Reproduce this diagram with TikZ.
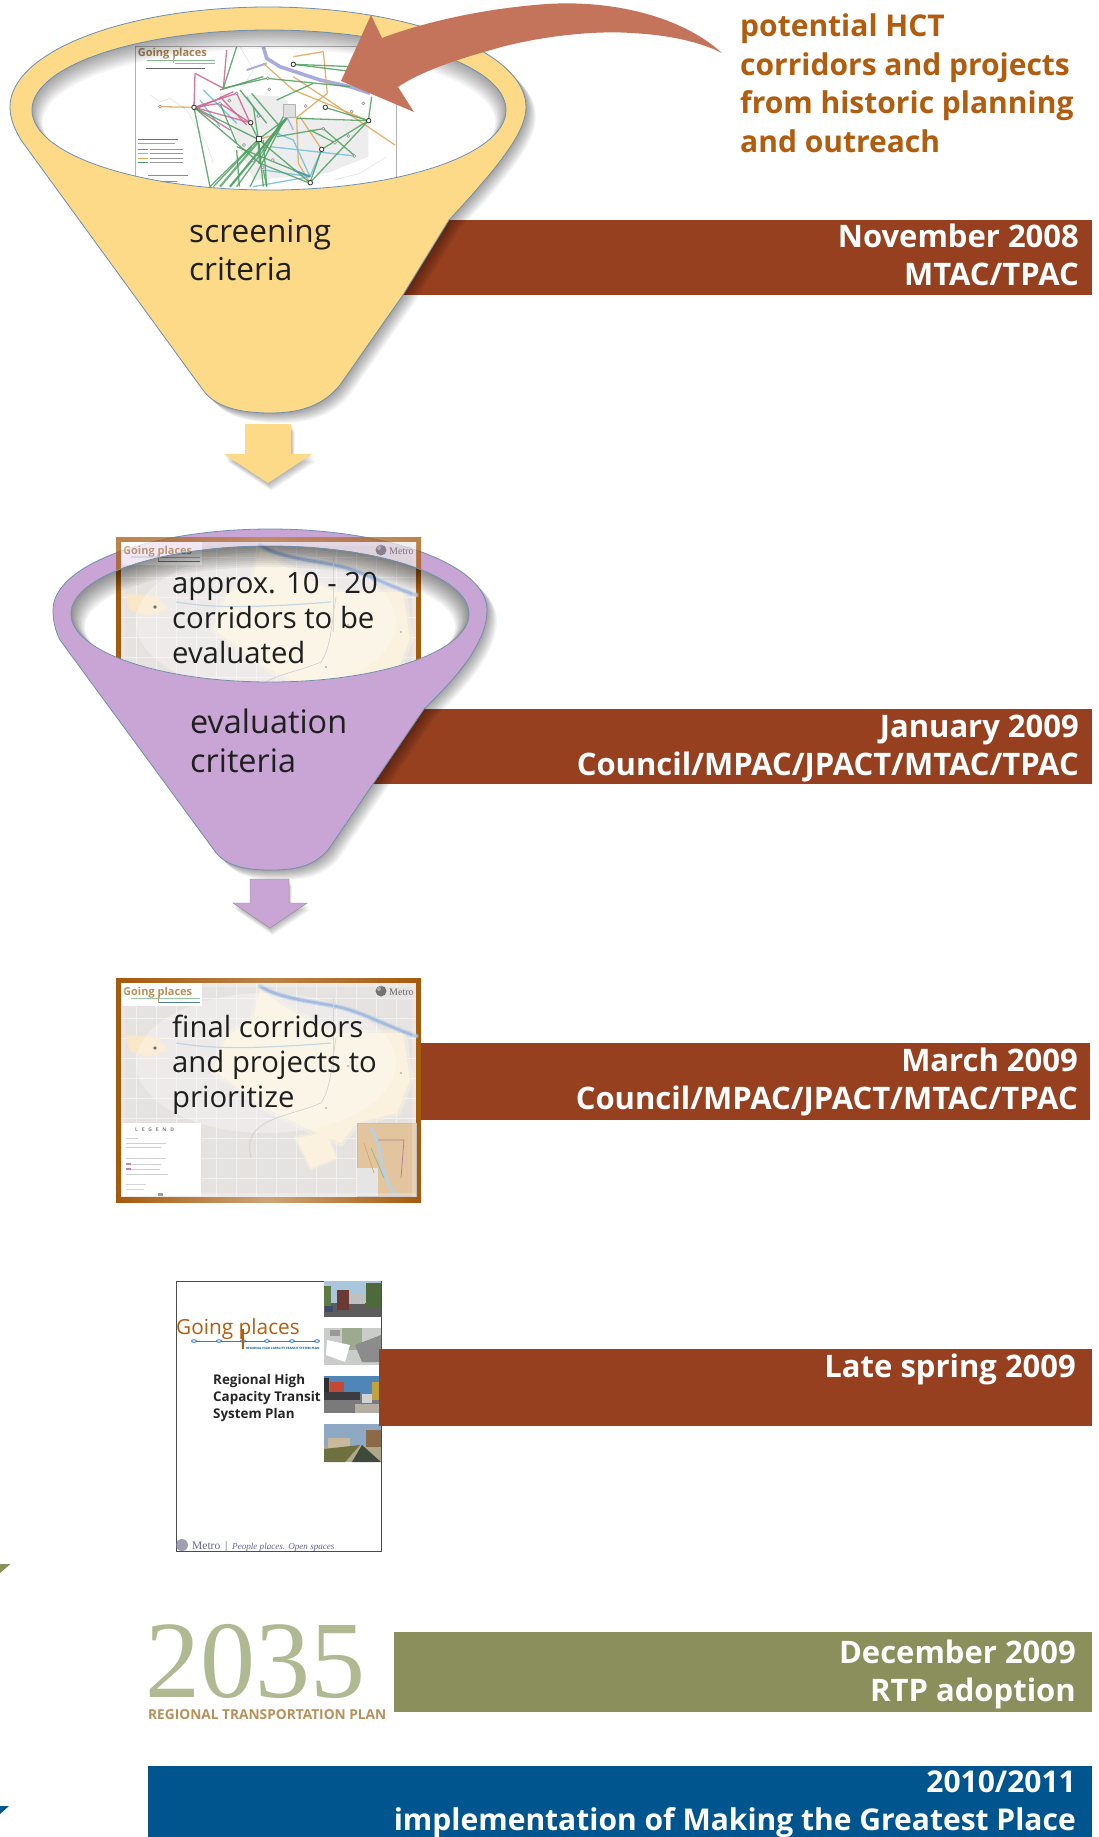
\documentclass[tikz,border=0pt]{standalone}
\usepackage{fontspec}
\setmainfont{Open Sans}
\newfontfamily\serifface{Liberation Serif}
\definecolor{barbrown}{HTML}{964020}
\definecolor{yellowf}{HTML}{FDDA88}
\definecolor{purplef}{HTML}{C8A5D4}
\definecolor{edgeblue}{HTML}{6F8FB0}
\definecolor{terracotta}{HTML}{C4745A}
\definecolor{orangetxt}{HTML}{B25C0E}
\definecolor{olivebar}{HTML}{8A8F5C}
\definecolor{olivepale}{HTML}{B0BA92}
\definecolor{bluebar}{HTML}{00558F}
\definecolor{framebrown}{HTML}{A55A0C}
\definecolor{mapbase}{HTML}{E6E2E0}
\definecolor{mapcream}{HTML}{FAF2DE}
\definecolor{mapriver}{HTML}{B9D0DF}
\definecolor{tantxt}{HTML}{B8905A}
\definecolor{netgreen}{HTML}{4FA060}
\definecolor{netpink}{HTML}{D0608E}
\definecolor{netorange}{HTML}{DDA858}
\definecolor{netblue}{HTML}{70BFD6}
\definecolor{netviolet}{HTML}{A9ABDC}
\tikzset{
  bartext/.style={font=\fontsize{31}{38}\selectfont\bfseries,text=white,align=right,anchor=base east,inner sep=0pt},
  bodytext/.style={font=\fontsize{31.6}{38}\selectfont,text=black!88,align=left,anchor=base west,inner sep=0pt},
  maptext/.style={font=\fontsize{29.3}{35}\selectfont,text=black!88,align=left,anchor=base west,inner sep=0pt},
  net/.style={line width=1.3pt,opacity=.85},
  hub/.style={circle,draw=black!75,fill=white,line width=.9pt,minimum size=4.5pt,inner sep=0pt},
  tiny/.style={circle,draw=black!45,fill=white,line width=.5pt,minimum size=3pt,inner sep=0pt},
  mapsmall/.style={inner sep=0pt,anchor=base west},
  photofill/.code={\definecolor{phototmp}{HTML}{#1}\tikzset{fill=phototmp}},
}
% outlines
\def\funnelApath{(10,107) arc[start angle=180,end angle=0,x radius=258pt,y radius=100pt]
  .. controls (526,130) and (505,160) .. (449,220) -- (403,295) -- (340,385)
  .. controls (322,407) and (298,413) .. (270,413) .. controls (240,413) and (215,407) .. (203,390)
  -- (21,140) .. controls (14,128) and (10,118) .. (10,107) -- cycle}
\def\funnelBpath{(53,610) arc[start angle=180,end angle=0,x radius=217pt,y radius=81pt]
  .. controls (487,635) and (470,665) .. (424,709) -- (373,784) -- (328,850)
  .. controls (312,868) and (292,870) .. (270,870) .. controls (245,870) and (225,866) .. (214,850)
  -- (60,640) .. controls (55,630) and (53,620) .. (53,610) -- cycle}
\def\arrowApath{(245,424) -- (291,424) -- (291,454) -- (312,454) -- (268,483) -- (224,454) -- (245,454) -- cycle}
\def\arrowBpath{(250,879) -- (289,879) -- (289,903) -- (307,903) -- (270,928) -- (233,903) -- (250,903) -- cycle}
% soft map picture, origin = frame corner
\def\urbanpath{(144,12) -- (167,28) -- (217,55) -- (287,55) -- (294,102) -- (281,135) -- (241,145)
     -- (225,165) -- (194,152) -- (150,130) -- (97,92) -- (111,58) -- (137,42) -- cycle}
\newcommand{\softmap}{
  \fill[framebrown] (0,0) rectangle (305,224);
  \shade[left color=framebrown,right color=framebrown,middle color=framebrown!55!white] (0,218) rectangle (305,224);
  \shade[left color=framebrown,right color=framebrown,middle color=framebrown!75!white] (0,0) rectangle (305,5);
  \fill[mapbase] (5,5) rectangle (300,219);
  \foreach \gx in {20,40,...,280} {\draw[black!6,line width=.3pt] (\gx,5) -- (\gx,219);}
  \foreach \gy in {20,40,...,200} {\draw[black!6,line width=.3pt] (5,\gy) -- (300,\gy);}
  \draw[mapcream,line width=7pt,line join=round,opacity=.45] \urbanpath;
  \fill[mapcream] \urbanpath;
  \draw[mapcream!90!orange,line width=3pt,line join=round,opacity=.6] (11,58) -- (40,60) -- (51,72) -- (31,78) -- (14,72) -- cycle;
  \fill[mapcream!90!orange] (11,58) -- (40,60) -- (51,72) -- (31,78) -- (14,72) -- cycle;
  \draw[mapcream,line width=4pt,line join=round,opacity=.5] (180,160) -- (210,155) -- (220,180) -- (195,190) -- cycle;
  \fill[mapcream] (180,160) -- (210,155) -- (220,180) -- (195,190) -- cycle;
  \fill[white,opacity=.3] (150,85) ellipse [x radius=130pt,y radius=70pt];
  \draw[mapriver,line width=5pt,line cap=round,line join=round,opacity=.6] (144,8) .. controls (165,22) and (205,24) .. (227,30) .. controls (250,36) and (275,50) .. (300,58);
  \draw[mapriver!90!blue,line width=2.6pt,line cap=round,line join=round] (144,8) .. controls (165,22) and (205,24) .. (227,30) .. controls (250,36) and (275,50) .. (300,58);
  \draw[mapriver,line width=1.2pt,opacity=.8] (60,65) .. controls (100,72) and (150,70) .. (215,65);
  \draw[black!18,line width=.7pt] (220,60) .. controls (215,90) and (215,110) .. (205,125) .. controls (170,140) and (125,140) .. (135,180);
  \draw[red!25!black!18,line width=.5pt] (217,20) -- (217,95);
  \fill[black!55] (39,70) circle (1.8pt);
  \fill[black!30] (232,88) circle (1.2pt);
  \fill[black!30] (285,95) circle (1.2pt);
  \fill[black!30] (210,130) circle (1.2pt);
  \fill[white] (6,5) rectangle (86,28);
  \node[mapsmall,text=tantxt,font=\fontsize{11}{12}\selectfont\bfseries] (mapgoing) at (7,17) {Going places};
  \draw[netgreen!60,line width=.7pt] (15,20) -- (84,20);
  \draw[netblue!70!black,line width=.6pt] (42,24) -- (84,24);
  \draw[orangetxt!60,line width=.8pt] (42,17) -- (42,25);
  \fill[black!55] (265,13) circle (5.5pt);
  \fill[white,opacity=.4] (263,11) circle (2pt);
  \node[mapsmall,text=black!60,font=\serifface\fontsize{10}{11}\selectfont] (mapmetro) at (273,17) {Metro};
  % legend
  \fill[white] (6,145) rectangle (85,218);
  \node[mapsmall,text=black!50,font=\fontsize{5}{6}\selectfont\bfseries] (maplegend) at (19,153) {L\,\,\, E\,\,\, G\,\,\, E\,\,\, N\,\,\, D};
  \foreach \ly/\lx in {160/12,165/40,169/35,180/40,186/35,191/34,196/42,206/20,211/18} {\draw[black!18,line width=1pt] (10,\ly) -- (10+\lx,\ly);}
  \fill[netpink!80] (10,185) rectangle (15,187);
  \fill[violet!50] (10,190) rectangle (15,192);
  \fill[black!50] (42,215) rectangle (47,218);
  % inset
  \fill[mapcream!75!orange!80!gray] (241,145) rectangle (300,218);
  \draw[black!25,line width=.5pt] (241,145) rectangle (300,218);
  \fill[black!10] (241,190) rectangle (262,218);
  \draw[mapriver,line width=3pt] (255,150) .. controls (270,175) and (260,190) .. (280,218);
  \draw[netpink!70!black!70,line width=.7pt] (262,162) -- (288,162) -- (285,200);
  \draw[netgreen!70,line width=.7pt] (255,170) -- (268,200);
  \draw[netorange,line width=.7pt] (248,165) -- (258,195);
  \fill[white,opacity=.25] (5,5) rectangle (300,9);
  \fill[white,opacity=.25] (5,215) rectangle (300,219);
  \fill[white,opacity=.2] (296,5) rectangle (300,219);
  \fill[white,opacity=.2] (5,5) rectangle (9,219);
}
% network map, in coordinates of a 3x view
\newcommand{\netmap}{
  \fill[white] (47,48) rectangle (830,500);
  \fill[black!7] (300,190) -- (490,200) -- (530,260) -- (745,280) -- (745,380) -- (620,430) -- (400,450) -- (350,330) -- cycle;
  \draw[black!30,line width=.5pt] (47,500) -- (47,48) -- (830,48) -- (830,500);
  \draw[black!12,line width=.5pt] (90,195) -- (120,215) -- (150,205) -- (200,240) -- (260,340) -- (280,400);
  \draw[black!12,line width=.5pt] (360,50) -- (400,120) -- (370,170);
  \draw[black!12,line width=.5pt] (640,450) -- (720,430) -- (800,380);
  \draw[netviolet,line width=3.6pt,line join=round] (430,50) -- (440,85) -- (480,110) -- (600,150) -- (690,170) -- (750,190);
  \draw[netviolet,line width=2pt,line join=round] (380,120) -- (440,100);
  \draw[netviolet,line width=1.2pt] (500,260) -- (520,300);
  % orange
  \foreach \a/\b in {{(520,80)}/{(610,65)},{(610,65)}/{(622,190)},{(622,190)}/{(530,262)},{(530,262)}/{(535,400)},{(535,400)}/{(570,458)},{(520,140)}/{(825,345)},{(430,100)}/{(520,180)},{(120,230)}/{(222,232)},{(415,328)}/{(480,310)},{(520,180)}/{(745,272)},{(540,260)}/{(605,358)}}
    {\draw[netorange,net] \a -- \b;}
  % light blue
  \foreach \a/\b in {{(470,310)}/{(520,330)},{(520,330)}/{(570,440)},{(430,420)}/{(570,440)},{(250,180)}/{(350,280)},{(605,358)}/{(570,440)},{(380,200)}/{(420,260)},{(450,350)}/{(705,378)},{(400,470)}/{(570,440)},{(240,210)}/{(300,290)}}
    {\draw[netblue,net] \a -- \b;}
  % pink
  \foreach \a/\b in {{(225,130)}/{(222,232)},{(225,130)}/{(310,175)},{(222,232)}/{(350,190)},{(222,232)}/{(300,220)},{(222,232)}/{(390,278)},{(300,220)}/{(390,278)},{(320,60)}/{(310,175)},{(222,232)}/{(330,300)},{(350,190)}/{(390,278)},{(222,240)}/{(340,185)},{(300,200)}/{(380,285)}}
    {\draw[netpink,net] \a -- \b;}
  % green
  \foreach \a/\b in {{(222,232)}/{(415,328)},{(222,232)}/{(270,470)},{(415,328)}/{(570,458)},{(270,470)}/{(415,328)},{(330,470)}/{(500,262)},{(350,470)}/{(500,265)},{(415,328)}/{(500,265)},{(415,328)}/{(430,470)},{(390,278)}/{(415,328)},{(350,50)}/{(310,175)},{(310,175)}/{(440,145)},{(440,145)}/{(690,170)},{(520,103)}/{(740,130)},{(520,103)}/{(700,110)},{(615,232)}/{(745,272)},{(745,272)}/{(605,358)},{(530,265)}/{(745,272)},{(745,272)}/{(570,458)},{(610,296)}/{(705,378)},{(570,300)}/{(645,338)},{(605,358)}/{(570,458)},{(350,350)}/{(570,440)},{(222,232)}/{(420,400)},{(430,330)}/{(440,470)},{(470,210)}/{(580,160)},{(755,200)}/{(745,272)},{(400,230)}/{(415,328)},{(300,220)}/{(350,340)},{(390,470)}/{(490,275)},{(280,470)}/{(395,350)},{(350,360)}/{(358,470)},{(430,140)}/{(300,180)},{(360,180)}/{(440,280)},{(490,260)}/{(415,400)},{(420,400)}/{(570,460)},{(395,190)}/{(480,290)},{(430,420)}/{(440,470)},{(470,320)}/{(610,296)}}
    {\draw[netgreen,net] \a -- \b;}
  \draw[netgreen,line width=2.2pt,opacity=.8] (330,470) -- (500,265);
  \draw[netgreen,line width=2.2pt,opacity=.8] (415,328) -- (420,400);
  \draw[netgreen,line width=2.2pt,opacity=.8] (300,470) -- (415,335);
  \draw[netblue!80!black,line width=1.8pt] (520,420) -- (570,440);
  \fill[black!12] (490,222) rectangle (527,262);
  \draw[black!30,line width=.4pt] (490,222) rectangle (527,262);
  \foreach \nn/\p in {a/{(222,232)},b/{(392,278)},d/{(520,103)},e/{(616,232)},f/{(746,272)},g/{(605,358)},h/{(571,458)}} {\node[hub] (net\nn) at \p {};}
  \node[hub,rectangle,minimum size=5pt] (netc) at (416,328) {};
  \foreach \nn/\p in {i/{(443,145)},j/{(300,220)},k/{(350,190)},l/{(557,228)},m/{(695,245)},n/{(730,220)},o/{(610,296)},p/{(645,338)},q/{(703,378)},r/{(685,318)},s/{(448,178)},t/{(328,212)},u/{(415,258)},v/{(120,230)},w/{(372,345)},x/{(458,390)},y/{(400,392)},z/{(428,412)}} {\node[tiny] (net\nn) at \p {};}
  % heading and key
  \node[mapsmall,text=tantxt!90!black,font=\fontsize{11}{12}\selectfont\bfseries] (netgoing) at (53,78) {Going places};
  \draw[netgreen!70,line width=.5pt] (80,90) -- (285,90);
  \draw[netblue,line width=.5pt] (165,100) -- (285,100);
  \draw[netorange,line width=.6pt] (160,72) -- (160,100);
  \draw[black!60,line width=.8pt] (78,116) -- (255,116);
  \draw[black!55,line width=.7pt] (55,328) -- (175,328);
  \draw[black!35,line width=.6pt] (55,340) -- (165,340);
  \foreach \ky/\kc in {358/netpink,371/netblue,384/netorange,397/netgreen} {\draw[\kc,line width=.8pt] (55,\ky) -- (85,\ky); \draw[black!40,line width=.6pt] (90,\ky) -- (190,\ky);}
  \draw[black!45,line width=.6pt] (85,437) -- (205,437);
  \draw[black!45,line width=.6pt] (85,454) -- (170,454);
}
\begin{document}
\begin{tikzpicture}[x=1pt,y=-1pt]
\useasboundingbox (0,0) rectangle (1099,1837);
\fill[white] (0,0) rectangle (1099,1837);

% bars
\fill[barbrown] (380,220) rectangle (1092,295);
\fill[barbrown] (350,709) rectangle (1092,784);
\fill[barbrown] (421,1043) rectangle (1090,1120);

% ---------- funnel 1
\foreach \s in {1,...,10} {\fill[black,opacity=.04,shift={(\s*1.0,\s*1.0)}] \funnelApath;}
\fill[yellowf,draw=edgeblue,line width=.8pt] \funnelApath;
\fill[white] (269,110) ellipse [x radius=237pt,y radius=80pt];
\begin{scope}
  \clip (269,110) ellipse [x radius=237pt,y radius=80pt];
  \begin{scope}[shift={(120,30)},x=.33333pt,y=-.33333pt]
    \netmap
  \end{scope}
  \foreach \s in {1,...,9} {
    \fill[black,opacity=.045,even odd rule] (0,0) rectangle (560,220)
      (269,110+\s*1.4) ellipse [x radius=237pt-\s*1.2pt,y radius=80pt-\s*.7pt];
  }
\end{scope}
\draw[edgeblue,line width=.8pt] (269,110) ellipse [x radius=237pt,y radius=80pt];

% big arrow
\fill[terracotta] (722,53) .. controls (680,15) and (610,0) .. (547,4) .. controls (490,8) and (430,20) .. (382,38)
  -- (371,15) -- (341,81) -- (414,112) -- (398,87) .. controls (420,72) and (455,60) .. (491,50)
  .. controls (530,38) and (590,30) .. (631,33) .. controls (670,35) and (700,42) .. (722,53) -- cycle;
\node[font=\fontsize{30}{38.5}\selectfont\bfseries,text=orangetxt,align=left,anchor=base west,inner sep=0pt] (source) at (740,152) {potential HCT\\corridors and projects\\from historic planning\\and outreach};
\node[bodytext] (screen) at (189,280) {screening\\criteria};
\node[bartext] (bar1) at (1079,285) {November 2008\\MTAC/TPAC};

% arrow 1
\foreach \s in {1,...,7} {\fill[black,opacity=.045,shift={(\s*.5,\s*1.1)}] \arrowApath;}
\fill[yellowf] \arrowApath;

% ---------- funnel 2
\foreach \s in {1,...,10} {\fill[black,opacity=.04,shift={(\s*1.0,\s*1.0)}] \funnelBpath;}
\fill[purplef,draw=edgeblue,line width=.8pt] \funnelBpath;
\fill[white] (270,614) ellipse [x radius=199pt,y radius=68pt];
\begin{scope}
  \clip (116,537) rectangle (421,573);
  \begin{scope}[shift={(116,537)},opacity=.75,transparency group]
    \softmap
  \end{scope}
\end{scope}
\begin{scope}
  \clip (270,614) ellipse [x radius=199pt,y radius=68pt];
  \fill[white] (60,540) rectangle (480,690);
  \begin{scope}[shift={(116,537)}]
    \softmap
  \end{scope}
  \foreach \s in {1,...,10} {
    \fill[black,opacity=.05,even odd rule] (0,500) rectangle (540,720)
      (270,614+\s*1.3) ellipse [x radius=199pt-\s*1.4pt,y radius=68pt-\s*.8pt];
  }
\end{scope}
\draw[edgeblue,line width=.8pt] (270,614) ellipse [x radius=199pt,y radius=68pt];
\node[maptext] (mid) at (172,663) {approx. 10 - 20\\corridors to be\\evaluated};
\node[bodytext,font=\fontsize{32.4}{39}\selectfont] (evalc) at (190,772) {evaluation\\criteria};
\node[bartext] (bar2) at (1079,775) {January 2009\\Council/MPAC/JPACT/MTAC/TPAC};

% arrow 2
\foreach \s in {1,...,7} {\fill[black,opacity=.045,shift={(\s*.4,\s*1.0)}] \arrowBpath;}
\fill[purplef,draw=black!45,line width=.4pt] \arrowBpath;

% ---------- map 3
\begin{scope}[shift={(116,978)}]
  \softmap
\end{scope}
\node[maptext] (finalc) at (172,1107) {final corridors\\and projects to\\prioritize};
\node[bartext] (bar3) at (1078,1109) {March 2009\\Council/MPAC/JPACT/MTAC/TPAC};

% ---------- document cover
\fill[white,draw=black!70,line width=1pt] (176.5,1281) rectangle (381,1551.5);
\node[inner sep=0pt,anchor=base west,text=orangetxt,font=\fontsize{20.8}{24}\selectfont] (docgoing) at (176,1334) {Going places};
\draw[green!45!black!70!lime,line width=1pt] (192,1341) -- (319,1341);
\foreach \nx in {194,219,243,267,292,317} {\fill[white,draw=blue!50!cyan!70!black,line width=.7pt] (\nx,1341) ellipse [x radius=2.4pt,y radius=1.3pt];}
\draw[orangetxt,line width=1.6pt] (243,1329) -- (243,1349);
\node[inner sep=0pt,anchor=base west,text=bluebar,font=\fontsize{3}{4}\selectfont\bfseries] (docsub) at (246,1349.5) {REGIONAL HIGH CAPACITY TRANSIT SYSTEM PLAN};
\node[inner sep=0pt,anchor=base west,align=left,text=black!85,font=\fontsize{13.4}{17}\selectfont\bfseries] (doctitle) at (213,1418) {Regional High\\Capacity Transit\\System Plan};
% photos
\begin{scope}
  \clip (324,1281) rectangle (381,1317);
  \fill[photofill=A9C6DC] (324,1281) rectangle (381,1303);
  \fill[photofill=5C5C5C] (324,1303) rectangle (381,1317);
  \fill[photofill=5E7A45] (324,1286) rectangle (331,1306);
  \fill[photofill=4E6A3A] (366,1283) rectangle (381,1308);
  \fill[photofill=C0C0C0] (345,1293) rectangle (365,1304);
  \fill[photofill=6A3A35] (337,1290) rectangle (349,1310);
  \fill[photofill=3C4C6A] (325,1306) rectangle (333,1312);
\end{scope}
\begin{scope}
  \clip (324,1328) rectangle (381,1365);
  \fill[photofill=C9CCC8] (324,1328) rectangle (381,1365);
  \fill[photofill=9DAA90] (342,1328) rectangle (362,1350);
  \fill[white] (327,1340) -- (350,1345) -- (345,1362) -- (326,1355) -- cycle;
  \fill[photofill=8C8C8C] (355,1345) -- (381,1335) -- (381,1362) -- (362,1362) -- cycle;
  \fill[photofill=999999] (330,1330) rectangle (340,1336);
\end{scope}
\begin{scope}
  \clip (324,1376) rectangle (381,1413);
  \fill[photofill=4F86B8] (324,1376) rectangle (381,1393);
  \fill[photofill=7A7A7A] (324,1393) rectangle (381,1413);
  \fill[photofill=C24A35] (330,1382) rectangle (344,1396);
  \fill[photofill=3C3C40] (324,1392) rectangle (360,1400);
  \fill[photofill=CFD2D6] (362,1394) rectangle (372,1403);
  \fill[photofill=2E2E2E] (324,1378) rectangle (329,1392);
  \fill[photofill=C2A23E] (372,1382) rectangle (381,1400);
  \fill[photofill=B4AEA4] (355,1404) rectangle (381,1413);
\end{scope}
\begin{scope}
  \clip (324,1424) rectangle (381,1462);
  \fill[photofill=8FA8C4] (324,1424) rectangle (381,1445);
  \fill[photofill=B0A88A] (324,1445) rectangle (381,1462);
  \fill[photofill=C8B89C] (328,1438) rectangle (350,1448);
  \fill[photofill=6F7040] (324,1449) -- (360,1445) -- (345,1462) -- (324,1462) -- cycle;
  \fill[photofill=3F4A3C] (352,1462) -- (362,1445) -- (381,1462) -- cycle;
  \fill[photofill=8A6A48] (366,1430) rectangle (381,1447);
\end{scope}
\fill[blue!20!black!50,opacity=.75] (182,1545) circle (6pt);
\node[inner sep=0pt,anchor=base west,text=blue!30!black!60,font=\serifface\fontsize{11.5}{12}\selectfont] (docfoot) at (192,1549) {Metro \,|\, {\fontsize{9.1}{10}\selectfont\textit{People places. Open spaces}}};
\fill[barbrown] (379,1349) rectangle (1092,1426);
\node[bartext] (bar4) at (1076,1377) {Late spring 2009};

% ---------- RTP
\fill[olivebar] (0,1564) -- (10.5,1564) -- (0,1573) -- cycle;
\node[inner sep=0pt,anchor=base west,text=olivepale,text depth=0pt,font=\serifface\fontsize{110}{110}\selectfont] (rtpyear) at (145,1697) {2035};
\node[inner sep=0pt,anchor=base west,text=tantxt,font=\fontsize{13.7}{14}\selectfont\bfseries] (rtpname) at (148,1719) {REGIONAL TRANSPORTATION PLAN};
\fill[olivebar] (394,1632) rectangle (1092,1712);
\node[bartext] (bar5) at (1076,1701) {December 2009\\RTP adoption};

% ---------- last bar
\fill[bluebar] (0,1806) -- (9,1806) -- (0,1814) -- cycle;
\fill[bluebar] (148,1766) rectangle (1092,1837);
\node[bartext,font=\fontsize{30}{38}\selectfont\bfseries] (bar6) at (1076,1830) {2010/2011\\implementation of Making the Greatest Place};
\end{tikzpicture}
\end{document}
